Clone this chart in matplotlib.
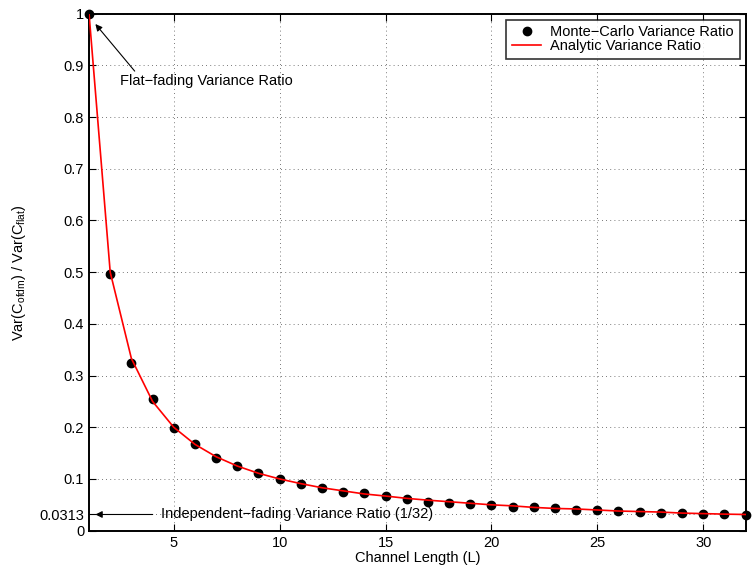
import matplotlib
matplotlib.use("Agg")
import matplotlib.pyplot as plt
import numpy as np

plt.rcParams["font.family"] = ["Liberation Sans", "DejaVu Sans"]
plt.rcParams["mathtext.fontset"] = "custom"
plt.rcParams["mathtext.rm"] = "Liberation Sans"
plt.rcParams["mathtext.it"] = "Liberation Sans"

# channel lengths and variance ratios
channel_len = list(range(1, 33))
mc_ratio = [1.0, 0.497, 0.324, 0.254, 0.199, 0.168, 0.141, 0.125, 0.111, 0.100,
            0.091, 0.083, 0.074, 0.0735, 0.0665, 0.061, 0.056, 0.054, 0.051, 0.0497,
            0.0465, 0.045, 0.044, 0.0406, 0.0394, 0.038, 0.0355, 0.034, 0.034, 0.033,
            0.0317, 0.031]
analytic_ratio = [1.0, 0.5, 0.333, 0.25, 0.2, 0.167, 0.143, 0.125, 0.111, 0.1,
                  0.091, 0.083, 0.077, 0.071, 0.067, 0.0625, 0.059, 0.056, 0.053, 0.05,
                  0.048, 0.045, 0.043, 0.042, 0.04, 0.038, 0.037, 0.036, 0.034, 0.033,
                  0.032, 0.0313]
y_ticks = [0, 0.0313, 0.1, 0.2, 0.3, 0.4, 0.5, 0.6, 0.7, 0.8, 0.9, 1]
y_tick_labels = ["0", "0.0313", "0.1", "0.2", "0.3", "0.4", "0.5", "0.6", "0.7", "0.8", "0.9", "1"]
x_ticks = [5, 10, 15, 20, 25, 30]

FS = 10.5

fig = plt.figure(figsize=(7.52, 5.70), dpi=100)
ax = fig.add_axes([0.1184, 0.069, 0.873, 0.907])

ax.plot(channel_len, mc_ratio, "o", color="black", markersize=6,
        label="Monte\u2212Carlo Variance Ratio", zorder=3, clip_on=False)
ax.plot(channel_len, analytic_ratio, "-", color="red", linewidth=1.2,
        label="Analytic Variance Ratio", zorder=4)

ax.set_xlim(1, 32)
ax.set_ylim(0, 1)
ax.set_xticks(x_ticks)
ax.set_yticks(y_ticks)
ax.set_yticklabels(y_tick_labels)
ax.tick_params(direction="in", length=5, labelsize=FS, top=True, right=True)
ax.grid(True, linestyle=(0, (1, 4)), color="black", linewidth=0.6, alpha=0.7)
for s in ax.spines.values():
    s.set_linewidth(1.4)

ax.set_xlabel("Channel Length (L)", fontsize=FS, labelpad=1)
ax.set_ylabel(r"Var(C$_{\mathrm{ofdm}}$) / Var(C$_{\mathrm{flat}}$)", fontsize=FS, labelpad=8)

ax.annotate("Flat\u2212fading Variance Ratio", xy=(1.3, 0.98), xytext=(2.45, 0.87),
            fontsize=FS, va="center",
            arrowprops=dict(arrowstyle="-|>", color="black", lw=0.8,
                            shrinkA=0, shrinkB=0, mutation_scale=10,
                            relpos=(0.1, 1.0)))
ax.annotate("Independent\u2212fading Variance Ratio (1/32)", xy=(1.3, 0.0313),
            xytext=(4.4, 0.0313), fontsize=FS, va="center",
            arrowprops=dict(arrowstyle="-|>", color="black", lw=0.8,
                            shrinkA=4, shrinkB=0, mutation_scale=10))

leg = ax.legend(loc="upper right", fontsize=FS, frameon=True, fancybox=False,
                edgecolor="black", borderpad=0.4, labelspacing=0.0,
                handlelength=2.0, handletextpad=0.6, borderaxespad=0.4)
leg.get_frame().set_linewidth(1.2)

fig.savefig("out.png", dpi=100)
